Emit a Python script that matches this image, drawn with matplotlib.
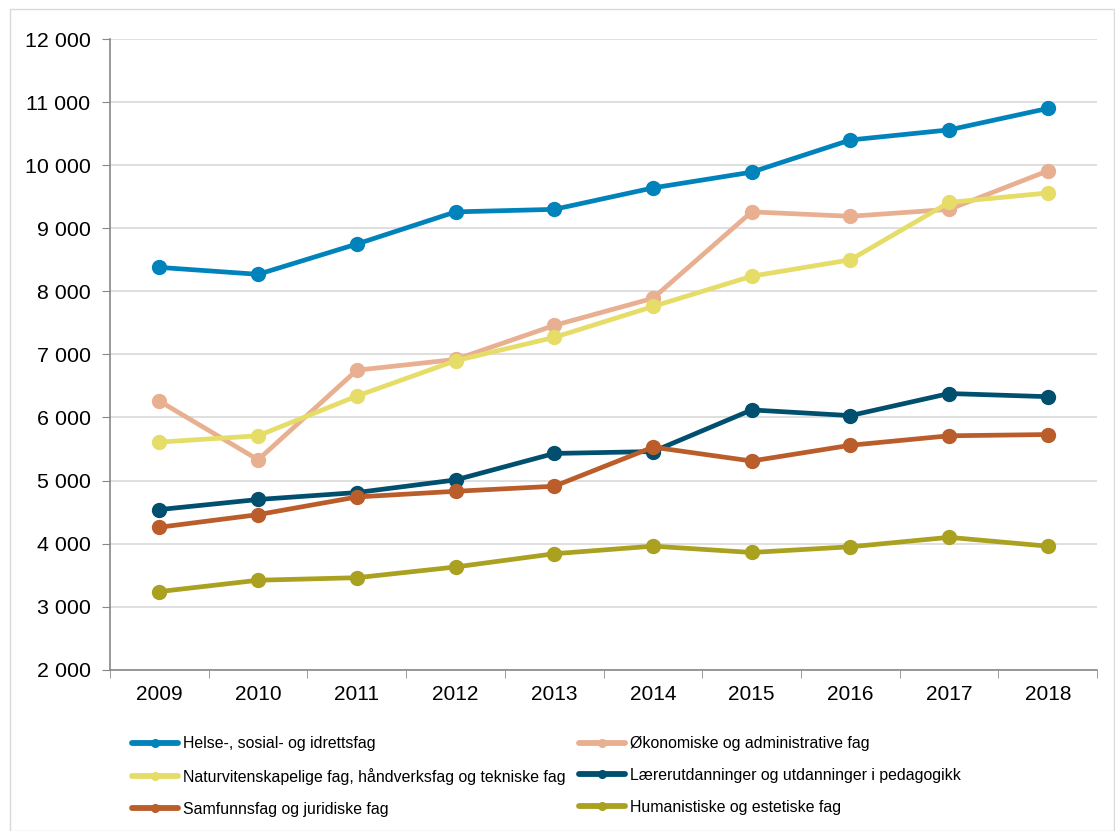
import matplotlib.pyplot as plt
from matplotlib.ticker import FuncFormatter, FixedLocator
from matplotlib.patches import Rectangle

plt.rcParams['font.family'] = ['Liberation Sans', 'DejaVu Sans']

years = [2009, 2010, 2011, 2012, 2013, 2014, 2015, 2016, 2017, 2018]

helse = [8380, 8270, 8750, 9260, 9300, 9640, 9890, 10400, 10560, 10900]
okonomi = [6260, 5330, 6750, 6920, 7460, 7890, 9260, 9190, 9300, 9910]
natur = [5610, 5710, 6340, 6900, 7270, 7760, 8240, 8500, 9410, 9560]
laerer = [4540, 4700, 4810, 5010, 5430, 5460, 6120, 6030, 6380, 6330]
samfunn = [4260, 4460, 4740, 4830, 4910, 5530, 5310, 5560, 5710, 5730]
human = [3240, 3420, 3460, 3630, 3840, 3960, 3860, 3950, 4100, 3960]

labels = [
    "Helse-, sosial- og idrettsfag",
    "Økonomiske og administrative fag",
    "Naturvitenskapelige fag, håndverksfag og tekniske fag",
    "Lærerutdanninger og utdanninger i pedagogikk",
    "Samfunnsfag og juridiske fag",
    "Humanistiske og estetiske fag",
]
series = [helse, okonomi, natur, laerer, samfunn, human]
colors = ["#0083BB", "#E8AF91", "#E5DD67", "#004F6E", "#BA5D2B", "#AAA121"]

fig = plt.figure(figsize=(11.15, 8.31), dpi=100)
ax = fig.add_axes([0.0987, 0.194, 0.8853, 0.759])

x = list(range(len(years)))
handles = []
for vals, lab, col in zip(series, labels, colors):
    h, = ax.plot(x, vals, color=col, linewidth=3.4, marker="o", markersize=10,
                 solid_capstyle="round", label=lab)
    handles.append(h)

ax.set_ylim(2000, 12000)
ax.set_yticks(range(2000, 12001, 1000))
ax.yaxis.set_major_formatter(FuncFormatter(lambda v, p: f"{int(v):,}".replace(",", " ")))
ax.set_xlim(-0.5, len(years) - 0.5)
ax.set_xticks(x)
ax.set_xticklabels([str(y) for y in years])
ax.xaxis.set_minor_locator(FixedLocator([i - 0.5 for i in range(len(years) + 1)]))
ax.tick_params(axis="x", which="major", length=0, pad=11, labelsize=15)
ax.tick_params(axis="x", which="minor", length=6, color="#888888")
ax.tick_params(axis="y", length=6, color="#888888", labelsize=15.4, pad=8)

ax.grid(axis="y", color="#D9D9D9", linewidth=1.2)
ax.set_axisbelow(True)
for side in ["top", "right"]:
    ax.spines[side].set_visible(False)
for side in ["left", "bottom"]:
    ax.spines[side].set_color("#888888")
    ax.spines[side].set_linewidth(1.2)

# legend laid out row by row in two columns
order = [0, 2, 4, 1, 3, 5]
leg = fig.legend([handles[i] for i in order], [labels[i] for i in order],
                 ncol=2, loc="upper left", bbox_to_anchor=(0.106, 0.131),
                 frameon=False, fontsize=11.4, handlelength=2.9, handletextpad=0.3,
                 columnspacing=0.85, labelspacing=1.05, markerscale=0.55)
for line in leg.get_lines():
    line.set_linewidth(4.2)

fig.add_artist(Rectangle((0.009, 0.0), 0.99, 0.989, transform=fig.transFigure,
                         fill=False, edgecolor="#D9D9D9", linewidth=1))

fig.savefig("out.png", dpi=100)
